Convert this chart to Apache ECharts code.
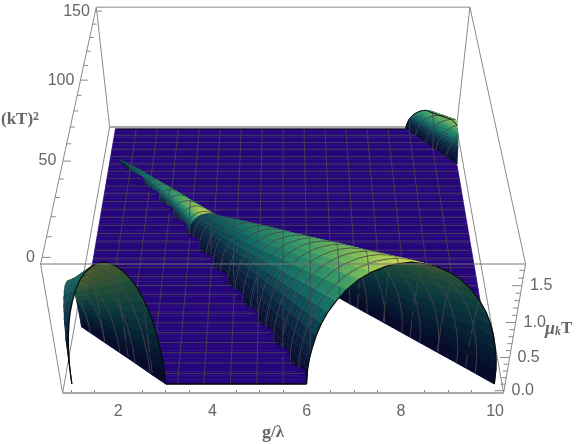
<!DOCTYPE html>
<html><head><meta charset="utf-8">
<style>html,body{margin:0;padding:0;background:#fff}#c{width:576px;height:444px}</style>
<script src="https://cdn.jsdelivr.net/npm/echarts@6/dist/echarts.min.js"></script>
</head><body><div id="c"></div>
<script>
// ---- values ----
const gTicks=[2,4,6,8,10];
const gMinorTicks=[1,1.5,2.5,3,3.5,4.5,5,5.5,6.5,7,7.5,8.5,9,9.5];
const kTickLabels=[0,50,100,150];
const muTickLabels=[0,0.5,1,1.5];
// hump cross-section: fraction across the foot-to-foot width and fraction of peak height
const profileF=[0,.004,.012,.025,.045,.07,.1,.14,.19,.25,.31,.38,.44,.5,.56,.62,.69,.75,.81,.86,.9,.93,.955,.975,.988,.996,1];
const profileH=[0,.13,.22,.31,.42,.52,.61,.70,.79,.87,.925,.97,.99,1,.99,.97,.925,.87,.79,.70,.61,.52,.42,.31,.22,.13,0];
// main ridge, (kT)^2 rows
const mainK=[0,10,20,30,40,50,60,70,78,90,100,110,120,128];
const mainFootL=[6,5.65,5.29,4.94,4.58,4.22,3.86,3.5,3.23,2.8,2.4,2,1.55,1.22];
const mainFootR=[10,9.26,8.51,7.77,7.02,6.28,5.54,4.79,4.2,3.55,3,2.4,1.8,1.25];
const mainPeak=[1.72,1.55,1.37,1.2,1.02,.85,.68,.5,.36,.26,.19,.12,.06,0];
const mainGlowK=[0,15,38,60,77.9,78,95,112,128];
const mainGlow=[1,.86,.7,.52,.36,1,.72,.5,.3];
// corner hump at small g
const leftK=[0,5,10,15,20,28];
const leftFootL=[1,.82,.65,.47,.29,0];
const leftFootR=[3,2.64,2.29,1.93,1.57,1];
const leftPeak=[1.72,1.5,1.28,1.08,.9,.6];
const leftGlowK=[0,28];
const leftGlow=[.55,.48];
// corner hump at large g and large (kT)^2
const backK=[125,130,135,140,145,150];
const backFootL=[10,9.76,9.52,9.28,9.03,8.79];
const backFootR=[11.6,11.3,10.9,10.5,10.15,9.77];
const backPeak=[.48,.45,.41,.37,.33,.3];
const backGlowK=[125,132,150];
const backGlow=[.85,.95,.7];

// ---- scales of the 3D box ----
const G0=.82,G1=10.18,GMIN=1,GMAX=10,KMAX=150,K_LOW=-3.125,MU_LOW=-.0364,MU_TOP=1.7818;
function project(g,k,mu){
  const v=.02+.96*k/150,w=.02+.55*mu,D=1+.2709*v-.0907*w;
  return [5.5+(g-5.5)/D,(393-231.6*v-152.94*w)/D,D];
}
function tbl(xs,ys,x){
  if(x<=xs[0])return ys[0];
  for(let i=1;i<xs.length;i++) if(x<=xs[i]) return ys[i-1]+(ys[i]-ys[i-1])*(x-xs[i-1])/(xs[i]-xs[i-1]);
  return ys[ys.length-1];
}
const H=f=>tbl(profileF,profileH,f);
const humps=[
 {k:mainK,L:mainFootL,R:mainFootR,P:mainPeak,gk:mainGlowK,gv:mainGlow},
 {k:leftK,L:leftFootL,R:leftFootR,P:leftPeak,gk:leftGlowK,gv:leftGlow},
 {k:backK,L:backFootL,R:backFootR,P:backPeak,gk:backGlowK,gv:backGlow}
];
const [hMain,hLeft,hBack]=humps;
const L=(h,k)=>tbl(h.k,h.L,k),R=(h,k)=>tbl(h.k,h.R,k),P=(h,k)=>tbl(h.k,h.P,k);
const inK=(h,k)=>k>=h.k[0]&&k<=h.k[h.k.length-1];
function muAt(g,k){
  let m=0;
  for(const h of humps){ if(!inK(h,k))continue;
    const f=(g-L(h,k))/(R(h,k)-L(h,k));
    if(f>0&&f<1)m=Math.max(m,P(h,k)*H(f)); }
  return m;
}
function section(h,k){
  const l=L(h,k),r=R(h,k),p=P(h,k);
  return profileF.map(f=>{
    let g=l+f*(r-l),ff=f;
    if(g<GMIN){g=GMIN;ff=(GMIN-l)/(r-l);}
    if(g>GMAX){g=GMAX;ff=(GMAX-l)/(r-l);}
    const hh=H(ff);
    return {g,hh,mu:p*hh};
  });
}
// ---- colours ----
const outerStops=[[0,[8,12,50]],[.2,[10,45,70]],[.45,[18,105,100]],[.68,[55,155,105]],[.85,[130,190,90]],[1,[215,220,85]]];
const innerStops=[[0,[7,7,40]],[.3,[6,30,50]],[.6,[10,58,62]],[.85,[32,80,56]],[1,[70,92,45]]];
function pal(s,t){
  t=Math.max(0,Math.min(1,t));
  for(let i=1;i<s.length;i++) if(t<=s[i][0]){
    const a=s[i-1],b=s[i],q=(t-a[0])/(b[0]-a[0]);
    return 'rgb('+a[1].map((c,j)=>Math.round(c+(b[1][j]-c)*q)).join(',')+')';
  }
  return 'rgb('+s[s.length-1][1].join(',')+')';
}
// ---- primitives, all drawn through the axes by renderItem ----
const PLANE='#26057d',MESH='#48444a',MW=.85,BOX='#8a8a8a',TXT='#666',BLK='#0a0a0a';
const back=[],sorted=[],notches=[],front=[];
const pl=(a,col,lw)=>({t:'l',p:a,c:col,w:lw});
const P3=a=>a.map(q=>project(q[0],q[1],q[2]).slice(0,2));
const kHi=KMAX+3.125;
const E={a:[G0,K_LOW,MU_LOW],b:[G1,K_LOW,MU_LOW],c:[G1,K_LOW,MU_TOP],d:[G0,K_LOW,MU_TOP],
         e:[G0,kHi,MU_TOP],f:[G1,kHi,MU_TOP],g:[G0,kHi,MU_LOW],h:[G1,kHi,MU_LOW]};
[['a','g'],['b','h'],['e','g'],['f','h'],['d','e'],['e','f'],['c','f'],['a','d']].forEach(s=>back.push(pl(P3([E[s[0]],E[s[1]]]),BOX,1)));
back.push(pl(P3([E.g,E.h]),'#aaa',2));
// flat part of the surface
const aFn=k=>k<=28?Math.max(GMIN,R(hLeft,k)):GMIN;
const dFn=k=>k>=125?L(hBack,k):GMAX;
function quad(g00,g01,k0,g10,g11,k1){return {t:'p',p:P3([[g00,k0,0],[g01,k0,0],[g11,k1,0],[g10,k1,0]]),c:PLANE};}
for(let k=0;k<KMAX;k+=2){
  const k1=k+2;
  if(k<128){
    back.push(quad(aFn(k),L(hMain,k),k,aFn(k1),L(hMain,k1),k1));
    back.push(quad(R(hMain,k),dFn(k),k,R(hMain,k1),dFn(k1),k1));
  } else back.push(quad(GMIN,dFn(k),k,GMIN,dFn(k1),k1));
}
// mesh on the flat part
function planeSpans(k){
  if(k<=128) return [[aFn(k),L(hMain,k)],[R(hMain,k),dFn(k)]];
  return [[GMIN,dFn(k)]];
}
const meshK=[];for(let k=5;k<KMAX;k+=5)meshK.push(k);
const meshG=[];for(let i=1;i<16;i++)meshG.push(1+9*i/16);
meshK.forEach(k=>planeSpans(k).forEach(s=>{ if(s[1]>s[0]) back.push(pl(P3([[s[0],k,0],[s[1],k,0]]),MESH,MW)); }));
meshG.forEach(g=>{
  let run=null;
  for(let k=0;k<KMAX;k++){
    const m0=muAt(g,k),m1=muAt(g,k+1);
    if(m0===0&&m1===0){
      if(run===null)run=k;
    } else {
      if(run!==null&&k>run){back.push(pl(P3([[g,run,0],[g,k,0]]),MESH,MW));}
      run=null;
      const a=project(g,k,m0),b=project(g,k+1,m1);
      sorted.push({t:'l',p:[a.slice(0,2),b.slice(0,2)],c:MESH,w:MW,z:(a[2]+b[2])/2-.004});
    }
  }
  if(run!==null&&run<KMAX)back.push(pl(P3([[g,run,0],[g,KMAX,0]]),MESH,MW));
});
// plane border
back.push(pl(P3([[GMIN,KMAX,0],[dFn(KMAX),KMAX,0]]),BLK,1));
// humps
humps.forEach(h=>{
  const k0=h.k[0],kN=h.k[h.k.length-1];
  for(let k=k0;k<kN;k+=2){
    const k1=Math.min(k+2,kN),s0=section(h,k),s1=section(h,k1),km=(k+k1)/2,gl=tbl(h.gk,h.gv,km);
    for(let i=0;i<s0.length-1;i++){
      const A=project(s0[i].g,k,s0[i].mu),B=project(s0[i+1].g,k,s0[i+1].mu),C=project(s1[i+1].g,k1,s1[i+1].mu),D=project(s1[i].g,k1,s1[i].mu);
      const q=[A,B,C,D],sc=47.115;
      let ar=0;for(let j=0;j<4;j++){const u=q[j],w=q[(j+1)%4];ar+=u[0]*sc*w[1]-w[0]*sc*u[1];}
      if(Math.abs(ar)<.02)continue;
      const hh=(s0[i].hh+s0[i+1].hh+s1[i].hh+s1[i+1].hh)/4;
      const col=ar<0?pal(outerStops,Math.pow(hh,1.7)*gl):pal(innerStops,hh);
      sorted.push({t:'p',p:q.map(u=>u.slice(0,2)),c:col,z:(A[2]+B[2]+C[2]+D[2])/4});
    }
  }
  meshK.forEach(k=>{
    if(!inK(h,k))return;
    const s=section(h,k);
    for(let i=0;i<s.length-1;i++){
      if(s[i].g===s[i+1].g)continue;
      const a=project(s[i].g,k,s[i].mu),b=project(s[i+1].g,k,s[i+1].mu);
      sorted.push({t:'l',p:[a.slice(0,2),b.slice(0,2)],c:MESH,w:MW,z:(a[2]+b[2])/2-.004});
    }
  });
});
sorted.sort((a,b)=>b.z-a.z);
// saw-toothed rim where the ridge leaves the flat part
for(let k=0;k<120;k+=10){
  const d=.18;
  notches.push({t:'p',c:PLANE,p:P3([[L(hMain,k),k,0],[L(hMain,k+10),k+10,0],[L(hMain,k+6)+d,k+6,0]])});
}
meshK.forEach(k=>{ if(k<=120) notches.push(pl(P3([[L(hMain,k)-.02,k,0],[L(hMain,k)+.1,k,0]]),MESH,MW)); });
// black outlines
[[hMain,0],[hLeft,0]].forEach(o=>{
  const s=section(o[0],o[1]);
  front.push(pl(s.map(q=>project(q.g,o[1],q.mu).slice(0,2)),BLK,1.2));
});
front.push(pl(P3([[aFn(0),0,0],[L(hMain,0),0,0]]),BLK,1.4));
// back corner hump: front half of the far arch and its crest up to the g=10 edge
(function(){
  const s=section(hBack,KMAX).slice(0,14).map(q=>[q.g,KMAX,q.mu]);
  const crest=[145,140,135].map(k=>{const g=Math.min(GMAX,(L(hBack,k)+R(hBack,k))/2);return [g,k,muAt(g,k)];});
  front.push(pl(P3(s.concat(crest)),BLK,1));
})();
// box edges in front, axis ticks and labels
front.push(pl(P3([E.d,E.c]),'#777',1));
front.push(pl(P3([E.b,E.c]),BOX,1));
front.push(pl(P3([E.a,E.b]),'#aaa',2));
for(let k=0;k<=KMAX;k+=10){
  const maj=k%50===0;
  front.push(pl(P3([[G0,k,MU_TOP],[G0+(maj?.17:.1),k,MU_TOP]]),BOX,1));
}
for(let i=0;i<=17;i++){
  const m=i/10,maj=i%5===0;
  front.push(pl(P3([[G1,K_LOW,m],[G1-(maj?.2:.1),K_LOW,m]]),BOX,1));
}
kTickLabels.forEach(k=>front.push({t:'t',at:project(G0-.14,k,MU_TOP),s:String(k),al:'right'}));
muTickLabels.forEach(m=>front.push({t:'t',at:project(G1+.16,K_LOW,m),s:m.toFixed(1),al:'left'}));
const prims=back.concat(sorted,notches,front);

function renderItem(params,api){
  const q=prims[params.dataIndex];
  if(q.t==='t'){
    const a=api.coord([q.at[0],q.at[1]]);
    return {type:'text',x:a[0],y:a[1],silent:true,style:{text:q.s,fill:TXT,font:'16px "Liberation Sans"',align:q.al,verticalAlign:'middle'}};
  }
  const pts=q.p.map(u=>api.coord(u));
  if(q.t==='p') return {type:'polygon',silent:true,shape:{points:pts},style:{fill:q.c,stroke:q.c,lineWidth:.6}};
  return {type:'polyline',silent:true,shape:{points:pts},style:{fill:null,stroke:q.c,lineWidth:q.w}};
}
const chart=echarts.init(document.getElementById('c'),null,{renderer:'canvas'});
const labelStyle={color:TXT,fontSize:16,fontFamily:'Liberation Sans',margin:11,customValues:gTicks,hideOverlap:false};
chart.setOption({
  animation:false,
  grid:{left:24,top:0,width:479.6,height:393},
  xAxis:[
   {type:'value',min:0,max:G1,position:'bottom',splitLine:{show:false},axisLine:{show:false},
    axisTick:{show:true,inside:true,length:5,customValues:gTicks,lineStyle:{color:BOX}},axisLabel:labelStyle},
   {type:'value',min:0,max:G1,position:'bottom',splitLine:{show:false},axisLine:{show:false},
    axisTick:{show:true,inside:true,length:3,customValues:gMinorTicks,lineStyle:{color:BOX}},axisLabel:{show:false}}
  ],
  yAxis:{type:'value',min:0,max:393,inverse:true,show:false},
  series:[{type:'custom',coordinateSystem:'cartesian2d',xAxisIndex:0,yAxisIndex:0,silent:true,progressive:0,
    renderItem,data:prims.map((_,i)=>[i]),clip:false}],
  graphic:[
   {type:'text',left:262,top:424,style:{text:'{b|g}{n|/λ}',rich:{b:{font:'bold 18px "Liberation Serif"',fill:TXT},n:{font:'bold 17px "Liberation Serif"',fill:TXT}}}},
   {type:'text',left:545,top:320,style:{text:'{m|μ}{s|k}{b|T}',rich:{m:{font:'italic bold 18px "Liberation Serif"',fill:TXT},s:{font:'italic bold 12px "Liberation Serif"',fill:TXT,verticalAlign:'bottom'},b:{font:'bold 17px "Liberation Serif"',fill:TXT}}}},
   {type:'text',left:1,top:111,style:{text:'{b|(kT)}{s|2}',rich:{b:{font:'bold 17px "Liberation Serif"',fill:TXT},s:{font:'bold 12px "Liberation Serif"',fill:TXT,verticalAlign:'top'}}}}
  ]
});
</script></body></html>
